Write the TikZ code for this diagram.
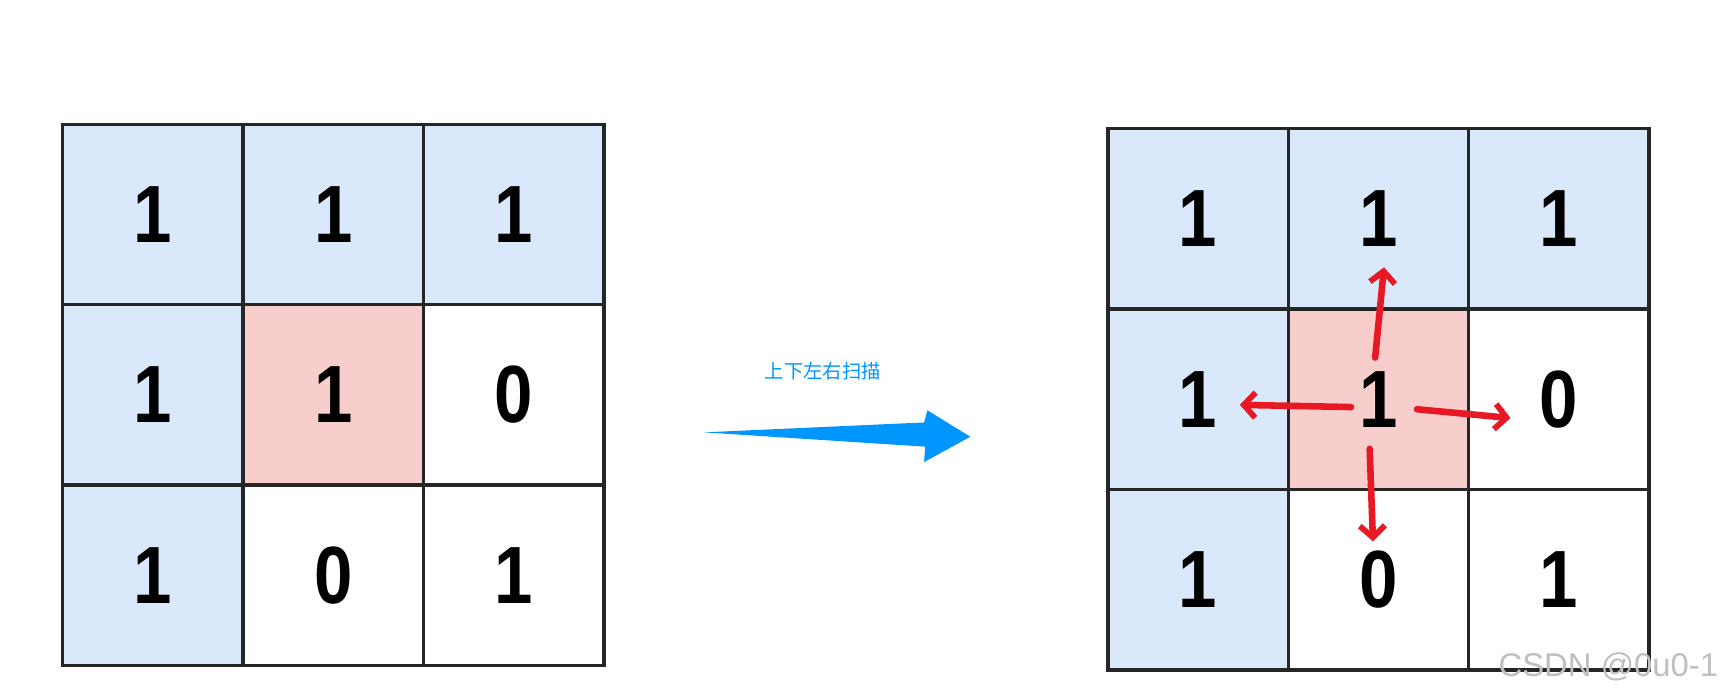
\documentclass[tikz,border=0pt]{standalone}
\usepackage{fontspec}
\setmainfont{Liberation Sans}
\newfontfamily\cjk{Noto Sans CJK SC}
\usetikzlibrary{arrows.meta,positioning}
\definecolor{azulClaro}{RGB}{218,232,252}
\definecolor{rosa}{RGB}{248,206,204}
\definecolor{azulFlecha}{RGB}{0,150,255}
\definecolor{rojo}{RGB}{232,24,36}
\tikzset{cell/.style={draw=black!85, line width=1.8pt, minimum size=3.28cm,
                      inner sep=0pt, font=\fontsize{42}{42}\selectfont\bfseries},
         redarrow/.style={rojo, line width=3.4pt, line cap=round,
                      -{Straight Barb[length=6pt,width=13pt,line width=3pt]}}}
\begin{document}
\begin{tikzpicture}[x=0.02cm,y=-0.02cm]
    \useasboundingbox (0,0) rectangle (1568,635);

    % left grid
    \foreach \r/\c/\v/\f in {0/0/1/azulClaro,0/1/1/azulClaro,0/2/1/azulClaro,
                             1/0/1/azulClaro,1/1/1/rosa,1/2/0/white,
                             2/0/1/azulClaro,2/1/0/white,2/2/1/white}
        \node (L\r\c) [cell,fill=\f] at ({139+164*\c},{195+164*\r})
            {\scalebox{0.85}[1]{\v}};

    % right grid
    \foreach \r/\c/\v/\f in {0/0/1/azulClaro,0/1/1/azulClaro,0/2/1/azulClaro,
                             1/0/1/azulClaro,1/1/1/rosa,1/2/0/white,
                             2/0/1/azulClaro,2/1/0/white,2/2/1/white}
        \node (R\r\c) [cell,fill=\f] at ({1089+164*\c},{199+164*\r})
            {\scalebox{0.85}[1]{\v}};

    % blue arrow
    \fill [azulFlecha] (640,393) -- (840,384) -- (843,373) -- (882,397)
        -- (840,420) -- (841,406) -- cycle;
    \node (scan) at (748,337) {\cjk\fontsize{10}{10}\selectfont\color{azulFlecha}上下左右扫描};

    % red arrows
    \coordinate (cU) at (1250,325);
    \coordinate (tU) at (1258,243);
    \coordinate (cL) at (1228,370);
    \coordinate (tL) at (1127,368);
    \coordinate (cR) at (1288,372);
    \coordinate (tR) at (1373,380);
    \coordinate (cD) at (1245,408);
    \coordinate (tD) at (1248,492);
    \draw [redarrow] (cU) -- (tU);
    \draw [redarrow] (cL) -- (tL);
    \draw [redarrow] (cR) -- (tR);
    \draw [redarrow] (cD) -- (tD);

    \node (mark) [anchor=east,text=black!25,font=\fontsize{17}{17}\selectfont]
        at (1568,606) {CSDN @0u0-1};
\end{tikzpicture}
\end{document}
